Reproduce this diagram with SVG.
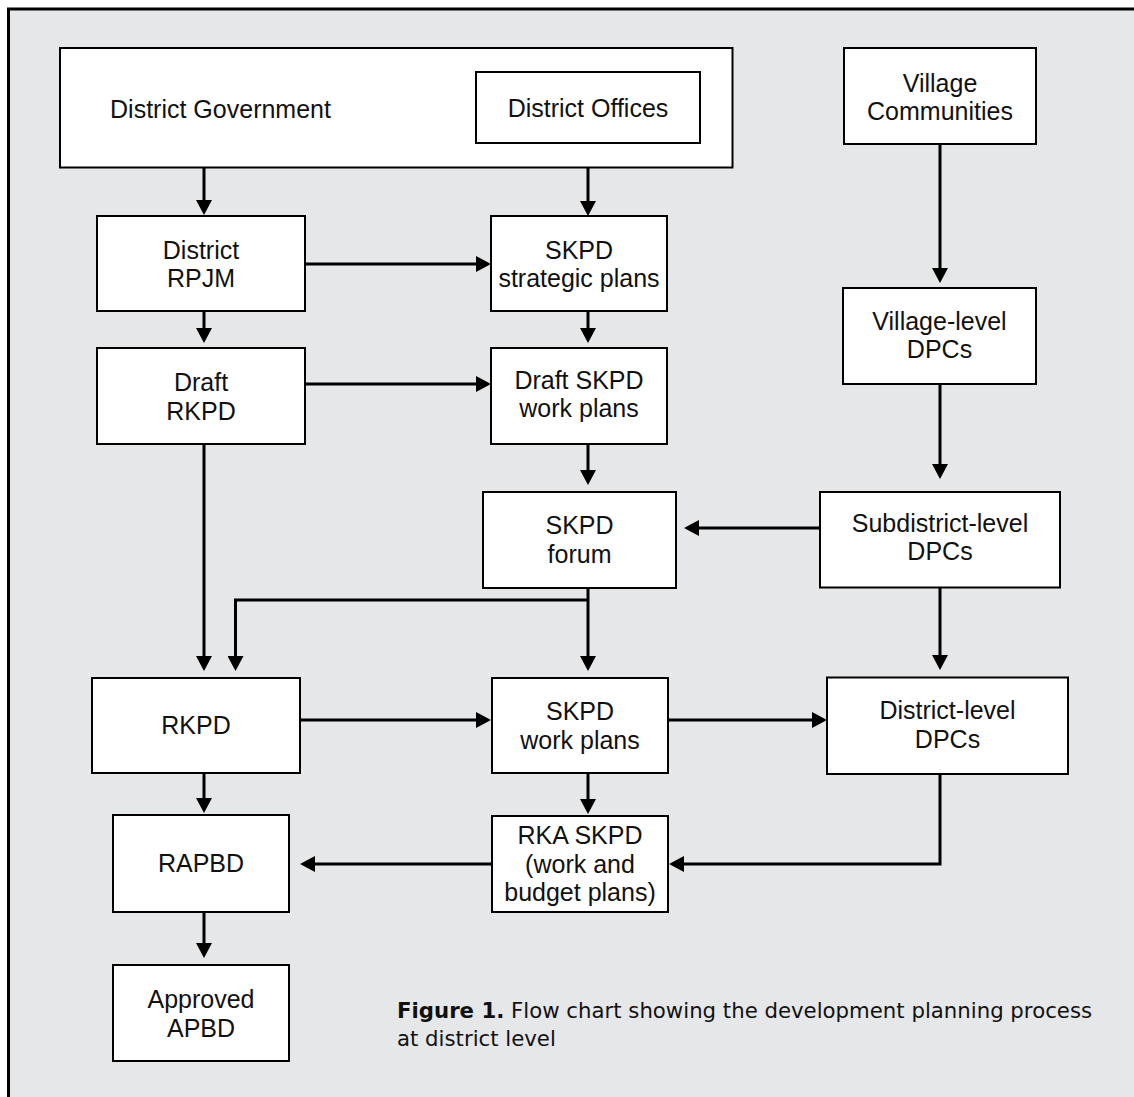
<svg xmlns="http://www.w3.org/2000/svg" width="1134" height="1097" viewBox="0 0 1134 1097">
<defs>
<style>
.box{fill:#fff;stroke:#000;stroke-width:2}
.lbl{font-family:"Liberation Sans",Arial,sans-serif;font-size:25px;fill:#111;text-anchor:middle}
.con{fill:none;stroke:#000;stroke-width:3}
.cap{font-family:"DejaVu Sans",Verdana,sans-serif;font-size:21.25px;fill:#111}
</style>
<marker id="ah" viewBox="0 0 15 16" refX="5" refY="8" markerWidth="15" markerHeight="16" markerUnits="userSpaceOnUse" orient="auto">
<path d="M0,0 L15,8 L0,16 Z" fill="#000"/>
</marker>
</defs>
<rect x="0" y="0" width="1134" height="1097" fill="#fff"/>
<rect x="8.5" y="9" width="1200" height="1200" fill="#e6e7e8" stroke="#000" stroke-width="3"/>

<g id="connectors">
<path class="con" marker-end="url(#ah)" d="M204,168 V205"/>
<path class="con" marker-end="url(#ah)" d="M588,143 V206"/>
<path class="con" marker-end="url(#ah)" d="M940,144 V273"/>
<path class="con" marker-end="url(#ah)" d="M305,264 H481"/>
<path class="con" marker-end="url(#ah)" d="M204,311 V333"/>
<path class="con" marker-end="url(#ah)" d="M588,311 V333"/>
<path class="con" marker-end="url(#ah)" d="M305,384 H481"/>
<path class="con" marker-end="url(#ah)" d="M588,444 V475"/>
<path class="con" marker-end="url(#ah)" d="M940,384 V469"/>
<path class="con" marker-end="url(#ah)" d="M820,528 H694"/>
<path class="con" marker-end="url(#ah)" d="M204,444 V661"/>
<path class="con" marker-end="url(#ah)" d="M588,588 V661"/>
<path class="con" marker-end="url(#ah)" d="M588,600 H235.5 V661"/>
<path class="con" marker-end="url(#ah)" d="M300,720 H481"/>
<path class="con" marker-end="url(#ah)" d="M668,720 H817"/>
<path class="con" marker-end="url(#ah)" d="M940,587 V660"/>
<path class="con" marker-end="url(#ah)" d="M204,773 V803"/>
<path class="con" marker-end="url(#ah)" d="M588,773 V804"/>
<path class="con" marker-end="url(#ah)" d="M940,774 V864 H679"/>
<path class="con" marker-end="url(#ah)" d="M492,864 H310"/>
<path class="con" marker-end="url(#ah)" d="M204,912 V948"/>
</g>

<g id="district-government">
<rect class="box" x="60" y="48" width="672.5" height="119.5"/>
<text class="lbl" x="220.5" y="118">District Government</text>
</g>
<g id="district-offices">
<rect class="box" x="476" y="72" width="224" height="71"/>
<text class="lbl" x="588" y="117">District Offices</text>
</g>
<g id="village-communities">
<rect class="box" x="844" y="48" width="192" height="96"/>
<text class="lbl" x="940" y="92">Village</text>
<text class="lbl" x="940" y="120">Communities</text>
</g>
<g id="district-rpjm">
<rect class="box" x="97" y="216" width="208" height="95"/>
<text class="lbl" x="201" y="259">District</text>
<text class="lbl" x="201" y="287">RPJM</text>
</g>
<g id="skpd-strategic-plans">
<rect class="box" x="491" y="216" width="176" height="95"/>
<text class="lbl" x="579" y="259">SKPD</text>
<text class="lbl" x="579" y="287">strategic plans</text>
</g>
<g id="draft-rkpd">
<rect class="box" x="97" y="348" width="208" height="96"/>
<text class="lbl" x="201" y="391">Draft</text>
<text class="lbl" x="201" y="419.5">RKPD</text>
</g>
<g id="draft-skpd-work-plans">
<rect class="box" x="491" y="348" width="176" height="96"/>
<text class="lbl" x="579" y="389">Draft SKPD</text>
<text class="lbl" x="579" y="417">work plans</text>
</g>
<g id="village-level-dpcs">
<rect class="box" x="843" y="288" width="193" height="96"/>
<text class="lbl" x="939.5" y="330">Village-level</text>
<text class="lbl" x="939.5" y="358">DPCs</text>
</g>
<g id="skpd-forum">
<rect class="box" x="483" y="492" width="193" height="96"/>
<text class="lbl" x="579.5" y="534">SKPD</text>
<text class="lbl" x="579.5" y="562.5">forum</text>
</g>
<g id="subdistrict-level-dpcs">
<rect class="box" x="820" y="492" width="240" height="95.5"/>
<text class="lbl" x="940" y="532">Subdistrict-level</text>
<text class="lbl" x="940" y="560">DPCs</text>
</g>
<g id="rkpd">
<rect class="box" x="92" y="678" width="208" height="95"/>
<text class="lbl" x="196" y="734">RKPD</text>
</g>
<g id="skpd-work-plans">
<rect class="box" x="492" y="678" width="176" height="95"/>
<text class="lbl" x="580" y="720">SKPD</text>
<text class="lbl" x="580" y="748.5">work plans</text>
</g>
<g id="district-level-dpcs">
<rect class="box" x="827" y="677.5" width="241" height="96.5"/>
<text class="lbl" x="947.5" y="719">District-level</text>
<text class="lbl" x="947.5" y="747.5">DPCs</text>
</g>
<g id="rka-skpd">
<rect class="box" x="492" y="816" width="176" height="96"/>
<text class="lbl" x="580" y="844">RKA SKPD</text>
<text class="lbl" x="580" y="872.5">(work and</text>
<text class="lbl" x="580" y="901">budget plans)</text>
</g>
<g id="rapbd">
<rect class="box" x="113" y="815" width="176" height="97"/>
<text class="lbl" x="201" y="872">RAPBD</text>
</g>
<g id="approved-apbd">
<rect class="box" x="113" y="965" width="176" height="96"/>
<text class="lbl" x="201" y="1008">Approved</text>
<text class="lbl" x="201" y="1036.5">APBD</text>
</g>

<g id="caption">
<text class="cap" x="397" y="1018"><tspan font-weight="bold">Figure 1.</tspan> Flow chart showing the development planning process</text>
<text class="cap" x="397" y="1046">at district level</text>
</g>
</svg>
